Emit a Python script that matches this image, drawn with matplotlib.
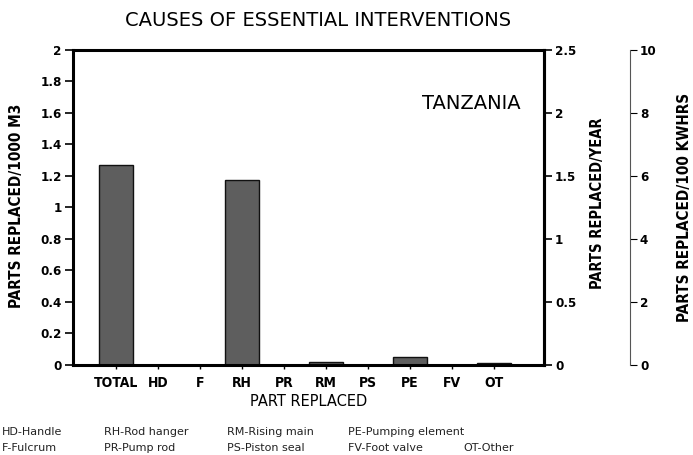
import numpy as np
import matplotlib.pyplot as plt

# parts replaced per 1000 m3, Tanzania
parts = ['TOTAL', 'HD', 'F', 'RH', 'PR', 'RM', 'PS', 'PE', 'FV', 'OT']
replaced = [1.27, 0.0, 0.0, 1.17, 0.0, 0.02, 0.0, 0.05, 0.0, 0.01]

key_row1 = ['HD-Handle', 'RH-Rod hanger', 'RM-Rising main', 'PE-Pumping element']
key_row2 = ['F-Fulcrum', 'PR-Pump rod', 'PS-Piston seal', 'FV-Foot valve', 'OT-Other']

plt.rcParams['font.family'] = ['DejaVu Sans']
plt.rcParams['font.stretch'] = 'condensed'

fig = plt.figure(figsize=(6.93, 4.55), dpi=100)
ax = fig.add_axes([0.1053, 0.1978, 0.6797, 0.6932])

x = np.arange(len(parts))
ax.bar(x, replaced, width=0.81, color='#5e5e5e', edgecolor='#111111', linewidth=1.0)
ax.set_xlim(-1.02, 10.2)
ax.set_ylim(0, 2)
ax.set_yticks(np.arange(0, 2.01, 0.2))
ax.set_yticklabels(['0', '0.2', '0.4', '0.6', '0.8', '1', '1.2', '1.4', '1.6', '1.8', '2'])
ax.set_xticks(x)
ax.set_xticklabels(parts)
for s in ['left', 'right', 'top', 'bottom']:
    ax.spines[s].set_linewidth(2.2)
ax.tick_params(axis='y', length=6, width=1.2, labelsize=9.5, pad=2)
ax.tick_params(axis='x', length=3, width=1.0, labelsize=10, pad=5)
for lab in ax.get_yticklabels() + ax.get_xticklabels():
    lab.set_fontweight('bold')
ax.set_xlabel('PART REPLACED', fontsize=10.5, fontstretch='normal', labelpad=3)

# parts replaced per year
ax2 = ax.twinx()
ax2.set_ylim(0, 2.5)
ax2.set_yticks([0, 0.5, 1, 1.5, 2, 2.5])
ax2.set_yticklabels(['0', '0.5', '1', '1.5', '2', '2.5'])
ax2.tick_params(axis='y', length=6, width=1.2, labelsize=9.5, pad=2)
for lab in ax2.get_yticklabels():
    lab.set_fontweight('bold')
ax2.spines['right'].set_linewidth(2.2)

# parts replaced per 100 kWh
ax3 = ax.twinx()
ax3.spines['right'].set_position(('axes', 1.183))
ax3.spines['right'].set_linewidth(0.8)
ax3.spines['right'].set_color('#555555')
ax3.spines['right'].set_linestyle((0, (6, 1)))
for s in ['left', 'top', 'bottom']:
    ax3.spines[s].set_visible(False)
ax3.set_ylim(0, 10)
ax3.set_yticks([0, 2, 4, 6, 8, 10])
ax3.tick_params(axis='y', length=5, width=0.8, labelsize=9.5, pad=2)
for lab in ax3.get_yticklabels():
    lab.set_fontweight('bold')

# axis titles
ylab = dict(rotation=90, ha='center', va='center', fontweight='bold')
fig.text(0.0245, 0.547, 'PARTS REPLACED/1000 M3', fontsize=11, **ylab)
fig.text(0.862, 0.554, 'PARTS REPLACED/YEAR', fontsize=10.5, **ylab)
fig.text(0.988, 0.545, 'PARTS REPLACED/100 KWHRS', fontsize=11, **ylab)

ax.text(0.845, 0.83, 'TANZANIA', transform=ax.transAxes, ha='center', va='center',
        fontsize=14, fontstretch='normal')
fig.text(0.459, 0.955, 'CAUSES OF ESSENTIAL INTERVENTIONS', ha='center', va='center',
         fontsize=14, fontstretch='normal')

cols = [0.0, 0.148, 0.325, 0.5, 0.667]
for i, t in enumerate(key_row1):
    fig.text(cols[i] + 0.002, 0.051, t, fontsize=8, fontstretch='normal', color='#222222', va='center')
for i, t in enumerate(key_row2):
    fig.text(cols[i] + 0.002, 0.016, t, fontsize=8, fontstretch='normal', color='#222222', va='center')

fig.savefig('out.png', dpi=100)
